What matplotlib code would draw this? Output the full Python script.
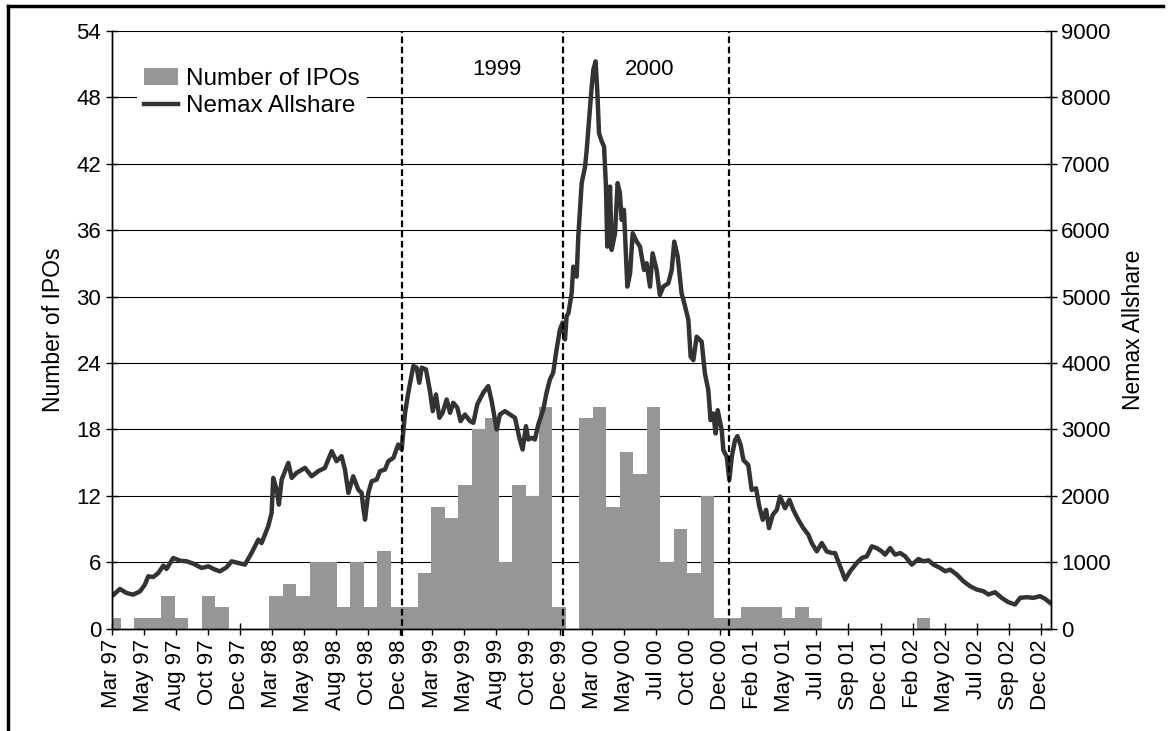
import matplotlib
matplotlib.use("Agg")
import matplotlib.pyplot as plt
from matplotlib.lines import Line2D
from matplotlib.patches import Patch
import numpy as np

plt.rcParams['font.family'] = ['Liberation Sans', 'DejaVu Sans']

# monthly IPO counts, Mar 97 .. Dec 02
ipo_start = 1997 + 2 / 12
ipo_counts = [1, 0, 1, 1, 3, 1, 0, 3, 2, 0,
              0, 0, 3, 4, 3, 6, 6, 2, 6, 2, 7, 2,
              2, 5, 11, 10, 13, 18, 19, 6, 13, 12, 20, 2,
              0, 19, 20, 11, 16, 14, 20, 6, 9, 5, 12, 1,
              1, 2, 2, 2, 1, 2, 1, 0, 0, 0, 0, 0,
              0, 0, 1, 0, 0, 0, 0, 0, 0, 0, 0, 0]

# Nemax Allshare (decimal year, index level)
nemax_t = [1997.194, 1997.245, 1997.286, 1997.327, 1997.369, 1997.399, 1997.420, 1997.451,
           1997.482, 1997.513, 1997.533, 1997.574, 1997.616, 1997.657, 1997.698, 1997.750,
           1997.791, 1997.832, 1997.863, 1997.904, 1997.935, 1997.976, 1998.017, 1998.058,
           1998.100, 1998.120, 1998.161, 1998.182, 1998.192, 1998.213, 1998.227, 1998.244,
           1998.285, 1998.306, 1998.336, 1998.388, 1998.429, 1998.470, 1998.511, 1998.553,
           1998.583, 1998.614, 1998.635, 1998.656, 1998.686, 1998.717, 1998.738, 1998.748,
           1998.759, 1998.779, 1998.800, 1998.831, 1998.851, 1998.882, 1998.903, 1998.934,
           1998.964,
           1998.985, 1999.006, 1999.026, 1999.057, 1999.078, 1999.094, 1999.109, 1999.135,
           1999.160, 1999.177, 1999.197, 1999.218, 1999.238, 1999.263, 1999.284, 1999.304,
           1999.329, 1999.349, 1999.376, 1999.407, 1999.428, 1999.452, 1999.489, 1999.520,
           1999.541, 1999.572, 1999.592, 1999.623, 1999.654, 1999.685, 1999.712, 1999.732,
           1999.753, 1999.767, 1999.788, 1999.808, 1999.829, 1999.860, 1999.880, 1999.901,
           1999.921, 1999.942, 1999.963, 1999.979, 1999.994, 2000.004,
           2000.015, 2000.035, 2000.045, 2000.066, 2000.076, 2000.097, 2000.118, 2000.128,
           2000.144, 2000.159, 2000.169, 2000.183, 2000.194, 2000.204, 2000.221, 2000.235,
           2000.247, 2000.255, 2000.272, 2000.282, 2000.303, 2000.319, 2000.333, 2000.344,
           2000.358, 2000.379, 2000.396, 2000.412, 2000.437, 2000.457, 2000.482, 2000.498,
           2000.519, 2000.535, 2000.560, 2000.580, 2000.601, 2000.632, 2000.653, 2000.669,
           2000.690, 2000.714, 2000.731, 2000.756, 2000.770, 2000.787, 2000.807, 2000.838,
           2000.858, 2000.879, 2000.893, 2000.910, 2000.924, 2000.937,
           2000.962, 2000.972, 2000.993, 2001.009, 2001.024, 2001.044, 2001.059, 2001.079,
           2001.096, 2001.126, 2001.147, 2001.174, 2001.194, 2001.215, 2001.236, 2001.254,
           2001.277, 2001.302, 2001.322, 2001.353, 2001.380, 2001.404, 2001.435, 2001.466,
           2001.497, 2001.518, 2001.549, 2001.580, 2001.610, 2001.641, 2001.662, 2001.693,
           2001.724, 2001.755, 2001.796, 2001.827, 2001.858, 2001.889, 2001.919, 2001.950,
           2001.971, 2002.002, 2002.033, 2002.064, 2002.095, 2002.136, 2002.177, 2002.208,
           2002.239, 2002.270, 2002.311, 2002.342, 2002.373, 2002.414, 2002.455, 2002.496,
           2002.537, 2002.578, 2002.609, 2002.650, 2002.691, 2002.732, 2002.774, 2002.805,
           2002.846, 2002.887, 2002.928, 2002.959, 2002.990]
nemax_v = [487, 598, 538, 513, 563, 663, 789, 779,
           839, 950, 900, 1065, 1025, 1015, 980, 915,
           940, 890, 864, 925, 1015, 990, 965, 1140,
           1342, 1290, 1543, 1744, 2271, 2095, 1869, 2246,
           2497, 2271, 2347, 2422, 2296, 2372, 2422, 2673,
           2523, 2598, 2397, 2045, 2296, 2095, 2045, 1819,
           1643, 2045, 2221, 2246, 2372, 2397, 2523, 2573,
           2774,
           2698, 3251, 3553, 3955, 3930, 3704, 3930, 3905,
           3578, 3276, 3528, 3176, 3251, 3452, 3251, 3402,
           3327, 3126, 3226, 3126, 3100, 3377, 3553, 3653,
           3427, 3000, 3226, 3276, 3226, 3176, 2874, 2698,
           3050, 2849, 2874, 2849, 3075, 3302, 3553, 3754,
           3854, 4206, 4508, 4608, 4357, 4709,
           4749, 5050, 5452, 5302, 5905, 6709, 6960, 7211,
           7714, 8166, 8417, 8543, 8065, 7462, 7337, 7261,
           6658, 5754, 6658, 5704, 5955, 6709, 6558, 6156,
           6307, 5151, 5352, 5955, 5829, 5754, 5402, 5503,
           5151, 5653, 5402, 5025, 5151, 5201, 5402, 5829,
           5603, 5050, 4900, 4648, 4096, 4045, 4397, 4322,
           3844, 3593, 3141, 3241, 2940, 3291,
           2990, 2690, 2590, 2240, 2590, 2840, 2900, 2765,
           2540, 2465, 2090, 2115, 1840, 1640, 1790, 1515,
           1715, 1790, 1990, 1815, 1940, 1790, 1640, 1515,
           1415, 1290, 1165, 1290, 1165, 1140, 1140, 940,
           740, 865, 990, 1065, 1090, 1240, 1215, 1165,
           1115, 1215, 1115, 1140, 1090, 965, 1050, 1015,
           1030, 965, 915, 865, 890, 815, 715, 640,
           590, 565, 515, 550, 465, 400, 365, 465,
           475, 465, 490, 450, 390]

tick_labels = ["Mar 97", "May 97", "Aug 97", "Oct 97", "Dec 97",
               "Mar 98", "May 98", "Aug 98", "Oct 98", "Dec 98",
               "Mar 99", "May 99", "Aug 99", "Oct 99", "Dec 99",
               "Mar 00", "May 00", "Jul 00", "Oct 00", "Dec 00",
               "Feb 01", "May 01", "Jul 01", "Sep 01", "Dec 01",
               "Feb 02", "May 02", "Jul 02", "Sep 02", "Dec 02"]

year_breaks = [1998.985, 1999.983, 2001.009]
year_names = ["1999", "2000"]
year_name_x = [1999.574, 2000.519]

x0, x1 = 1997.194, 2002.994
tick_step = 0.19786

fig = plt.figure(figsize=(11.68, 7.31), dpi=100)
ax = fig.add_axes([0.0956, 0.1399, 0.8040, 0.8177])
ax2 = ax.twinx()

bar_x = ipo_start + np.arange(len(ipo_counts)) / 12
ax.bar(bar_x, ipo_counts, width=1 / 12, align='edge', color='#969696', zorder=2)
ax2.plot(nemax_t, nemax_v, color='#333333', lw=3.2, solid_joinstyle='round')

for xb in year_breaks:
    ax2.axvline(xb, ymin=-0.012, ymax=1, color='black', lw=1.6,
                linestyle=(0, (3, 1.6)), clip_on=False, zorder=5)
for name, xn in zip(year_names, year_name_x):
    ax.text(xn, 50.5, name, ha='center', va='center', fontsize=16)

ax.set_xlim(x0, x1)
ax.set_ylim(0, 54)
ax2.set_ylim(0, 9000)
ax.set_xticks(x0 + tick_step * np.arange(len(tick_labels)))
ax.set_xticklabels(tick_labels, rotation=90, fontsize=16)
ax.set_yticks(range(0, 55, 6))
ax2.set_yticks(range(0, 9001, 1000))
ax.tick_params(axis='both', direction='inout', length=9, width=1, labelsize=16, pad=3)
ax2.tick_params(axis='y', direction='inout', length=9, width=1, labelsize=16, pad=3)

ax.set_axisbelow(True)
ax.yaxis.grid(True, color='black', lw=0.8)
for a in (ax, ax2):
    a.spines['top'].set_visible(False)
    for s in ('left', 'right', 'bottom'):
        a.spines[s].set_linewidth(1)

ax.set_ylabel("Number of IPOs", fontsize=16.5, labelpad=8)
ax2.set_ylabel("Nemax Allshare", fontsize=16.5, labelpad=8)

handles = [Patch(facecolor='#969696', edgecolor='none'),
           Line2D([], [], color='#333333', lw=3.2)]
leg = ax2.legend(handles, ["Number of IPOs", "Nemax Allshare"], loc='upper left',
                 bbox_to_anchor=(0.027, 0.95), fontsize=17.5, frameon=True,
                 facecolor='white', edgecolor='none', framealpha=1, fancybox=False,
                 handlelength=1.4, handletextpad=0.3, borderpad=0.3, labelspacing=0.2,
                 borderaxespad=0)

# frame round the figure
fig.add_artist(Line2D([7.5 / 1168, 7.5 / 1168], [0, 1 - 5.5 / 731], color='black', lw=2.5))
fig.add_artist(Line2D([7.5 / 1168, 1163 / 1168], [1 - 5.5 / 731, 1 - 5.5 / 731], color='black', lw=2.5))

fig.savefig("out.png", dpi=100)
